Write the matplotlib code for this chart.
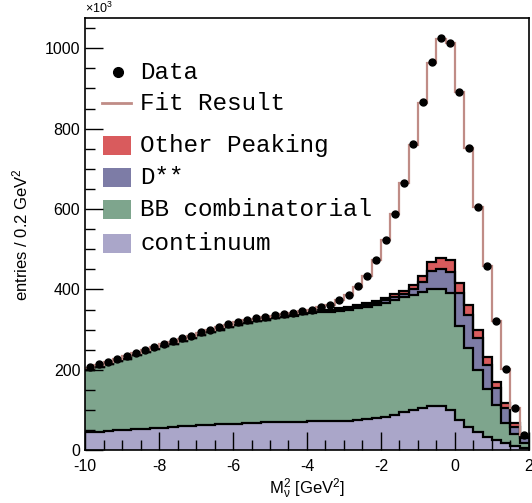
import matplotlib

matplotlib.use("Agg")
import matplotlib.pyplot as plt
import numpy as np
from matplotlib.ticker import MultipleLocator

# 48 bins of 0.25 GeV^2 from -10 to 2
EDGES = np.linspace(-10, 2, 49)

data = [206, 214, 220, 228, 234, 242, 250, 257, 264, 271, 278, 284, 294, 300, 307, 313,
        319, 323, 328, 332, 336, 338, 342, 346, 348, 355, 362, 373, 386, 408, 434, 473,
        522, 587, 664, 761, 866, 965, 1025, 1012, 891, 751, 604, 458, 322, 201, 105, 37]
fit = [205, 213, 220, 227, 234, 242, 249, 256, 263, 270, 277, 285, 292, 299, 306, 312,
       318, 323, 327, 331, 335, 338, 342, 346, 350, 355, 362, 373, 387, 407, 434, 472,
       522, 588, 664, 760, 865, 964, 1022, 1012, 890, 752, 604, 458, 322, 202, 106, 38]
continuum = [45, 45, 47, 49, 50, 52, 53, 55, 56, 58, 59, 60, 62, 63, 64, 65,
             66, 67, 68, 69, 70, 70, 71, 71, 72, 72, 72, 72, 73, 75, 77, 79,
             82, 88, 94, 100, 106, 109, 109, 101, 75, 57, 46, 33, 25, 17, 10, 5]
bb_comb = [155, 163, 167, 173, 178, 184, 191, 196, 202, 207, 213, 218, 225, 230, 236, 241,
           246, 249, 253, 256, 259, 261, 264, 267, 269, 271, 273, 275, 277, 278, 280, 282,
           285, 285, 286, 286, 288, 292, 293, 289, 235, 196, 153, 120, 87, 51, 30, 13]
dstarstar = [0, 0, 0, 0, 0, 0, 0, 0, 0, 0, 0, 0, 0, 0, 0, 0,
             0, 0, 0, 0, 1, 1, 1, 1, 2, 3, 3, 4, 4, 5, 5, 6,
             7, 8, 9, 14, 25, 44, 48, 54, 80, 83, 80, 58, 42, 37, 17, 12]
other_peak = [0, 0, 0, 0, 0, 0, 0, 0, 0, 0, 0, 0, 0, 0, 0, 0,
              0, 0, 0, 0, 0, 0, 1, 1, 1, 2, 2, 2, 3, 3, 3, 4,
              5, 7, 8, 10, 14, 23, 29, 28, 25, 25, 20, 20, 15, 12, 10, 6]

LABELS = ["Other Peaking", "D**", "BB combinatorial", "continuum"]
COLORS = {"continuum": "#aaa6c9", "BB combinatorial": "#7ea58d",
          "D**": "#7d7ca6", "Other Peaking": "#d95b5d"}
FIT_COLOR = "#c08c86"

plt.rcParams["font.family"] = ["Liberation Sans", "DejaVu Sans"]
plt.rcParams["axes.unicode_minus"] = False
plt.rcParams["mathtext.fontset"] = "custom"
plt.rcParams["mathtext.rm"] = "Liberation Sans"
plt.rcParams["mathtext.it"] = "Liberation Sans"

fig = plt.figure(figsize=(5.32, 5.03), dpi=100)
ax = fig.add_axes([0.160, 0.105, 0.834, 0.859])

# stacked backgrounds, bottom to top
layers = [("continuum", continuum), ("BB combinatorial", bb_comb),
          ("D**", dstarstar), ("Other Peaking", other_peak)]
bottom = np.zeros(len(EDGES) - 1)
for name, vals in layers:
    top = bottom + np.asarray(vals, dtype=float)
    ax.stairs(top, EDGES, baseline=bottom, fill=True, color=COLORS[name], lw=0)
    bottom = top
bottom = np.zeros(len(EDGES) - 1)
for name, vals in layers:
    top = bottom + np.asarray(vals, dtype=float)
    ax.stairs(top, EDGES, baseline=None, color="black", lw=1.6)
    bottom = top

ax.stairs(fit, EDGES, baseline=None, color=FIT_COLOR, lw=1.6)
centers = 0.5 * (EDGES[:-1] + EDGES[1:])
ax.plot(centers, data, "o", color="black", ms=5, zorder=5)

ax.set_xlim(-10, 2)
ax.set_ylim(0, 1075)
ax.xaxis.set_major_locator(MultipleLocator(2))
ax.xaxis.set_minor_locator(MultipleLocator(0.5))
ax.yaxis.set_major_locator(MultipleLocator(200))
ax.yaxis.set_minor_locator(MultipleLocator(50))
ax.tick_params(which="both", direction="in", top=False, right=False, labelsize=11.5, width=1)
ax.tick_params(which="major", length=13)
ax.tick_params(which="minor", length=7)
ax.tick_params(axis="x", pad=6)
for s in ax.spines.values():
    s.set_linewidth(1.2)

ax.set_xlabel(r"M$_{\nu}^{2}$ [GeV$^{2}$]", fontsize=12, labelpad=2)
ax.set_ylabel(r"entries / 0.2 GeV$^{2}$", fontsize=12, labelpad=10)
ax.text(0.0, 1.004, r"$\times10^{3}$", transform=ax.transAxes, fontsize=9, va="bottom")

# legend drawn by hand (ROOT style, uneven spacing)
mono = dict(family=["Liberation Mono", "DejaVu Sans Mono"], fontsize=17.5, va="center")
tr = ax.transAxes
ax.plot([0.074], [0.875], "o", color="black", ms=7, transform=tr, clip_on=False)
ax.text(0.124, 0.875, "Data", transform=tr, **mono)
ax.plot([0.038, 0.103], [0.803, 0.803], color=FIT_COLOR, lw=2, transform=tr)
ax.text(0.124, 0.803, "Fit Result", transform=tr, **mono)
ys = [0.706, 0.630, 0.556, 0.479]
for y, lab in zip(ys, LABELS):
    ax.add_patch(plt.Rectangle((0.040, y - 0.022), 0.063, 0.044, transform=tr,
                               facecolor=COLORS[lab], edgecolor="none"))
    ax.text(0.124, y, lab, transform=tr, **mono)

fig.savefig("out.png", dpi=100)
